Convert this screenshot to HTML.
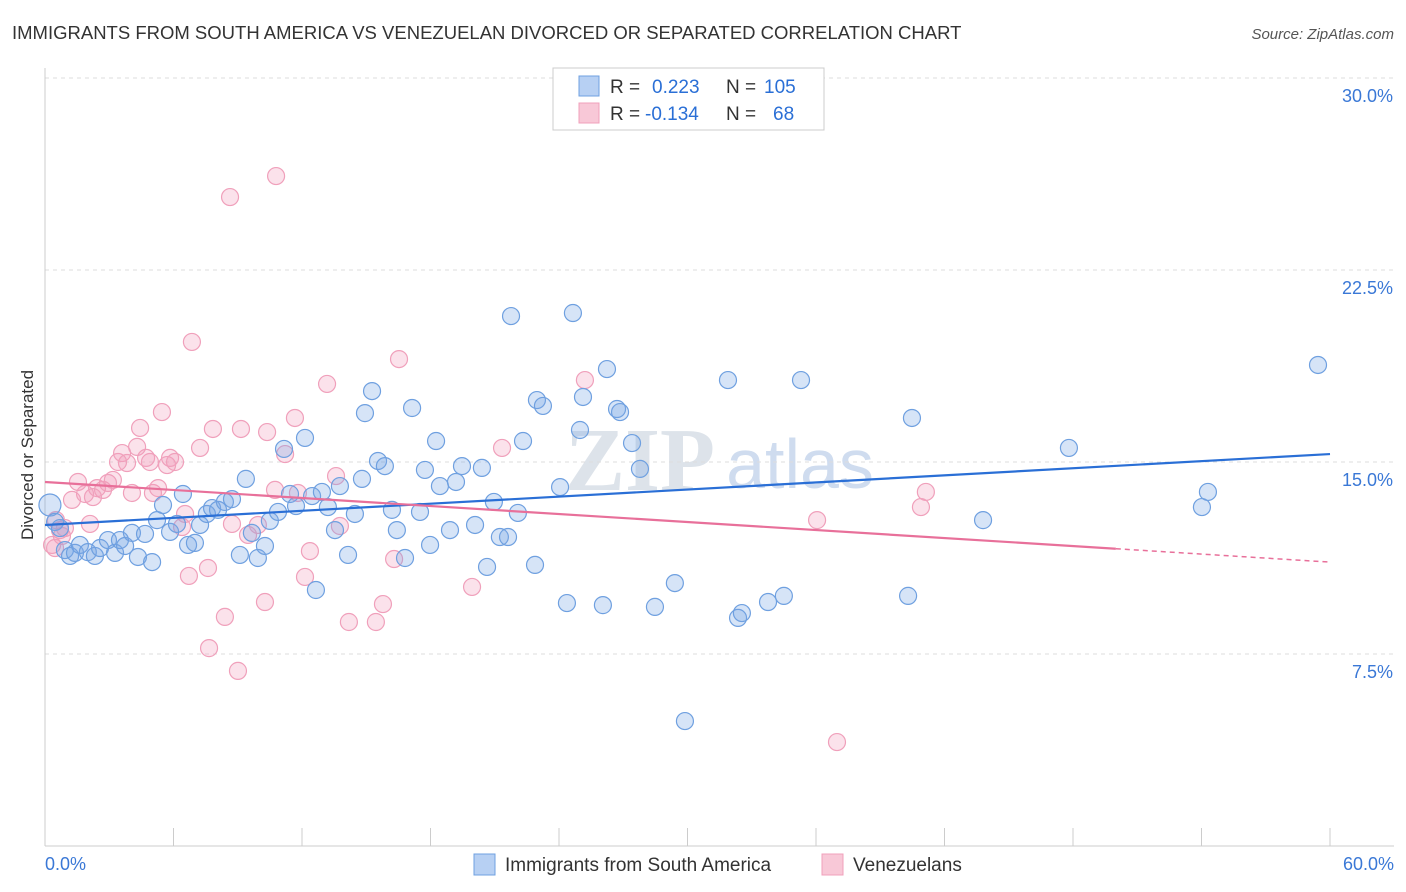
<!DOCTYPE html>
<html><head><meta charset="utf-8">
<style>
body{margin:0;background:#fff;font-family:"Liberation Sans",sans-serif;}
#wrap{position:relative;width:1406px;height:892px;overflow:hidden;}
</style></head>
<body>
<div id="wrap">
<svg id="svg" width="1406" height="892" xmlns="http://www.w3.org/2000/svg">
<text x="12" y="39" font-size="18.5" fill="#333">IMMIGRANTS FROM SOUTH AMERICA VS VENEZUELAN DIVORCED OR SEPARATED CORRELATION CHART</text>
<text x="1394" y="39" font-size="15" fill="#555" font-style="italic" text-anchor="end">Source: ZipAtlas.com</text>
<text x="33" y="455" font-size="17" fill="#333" text-anchor="middle" transform="rotate(-90 33 455)">Divorced or Separated</text>
<text x="640" y="490" font-size="90" fill="#dde3ea" font-family="Liberation Serif,serif" text-anchor="middle" font-weight="bold">ZIP</text>
<text x="800" y="488" font-size="70" fill="#cfdcef" text-anchor="middle">atlas</text>
<g id="grid"></g>
<g id="pts"></g>
<g id="lines"></g>
<g>
<rect x="553" y="68" width="271" height="62" fill="#fff" stroke="#ccc"/>
<rect x="579" y="76" width="20" height="20" fill="#b7d0f3" stroke="#6fa0e0"/>
<rect x="579" y="103" width="20" height="20" fill="#f8c8d7" stroke="#f0a0bb"/>
<text x="610" y="93" font-size="19" fill="#333">R = <tspan fill="#2a6fd6" x="652">0.223</tspan><tspan x="726" fill="#333">N =</tspan><tspan x="764" fill="#2a6fd6">105</tspan></text>
<text x="610" y="120" font-size="19" fill="#333">R = <tspan fill="#2a6fd6" x="645">-0.134</tspan><tspan x="726" fill="#333">N =</tspan><tspan x="773" fill="#2a6fd6">68</tspan></text>
</g>
<g>
<rect x="474" y="854" width="21" height="21" fill="#b7d0f3" stroke="#6fa0e0"/>
<text x="505" y="871" font-size="19" fill="#333">Immigrants from South America</text>
<rect x="822" y="854" width="21" height="21" fill="#f8c8d7" stroke="#f0a0bb"/>
<text x="853" y="871" font-size="19" fill="#333">Venezuelans</text>
</g>
</svg>
</div>
<script>
const blueX=[0.23,0.47,0.7,0.93,1.17,1.4,1.63,2.0,2.33,2.57,2.94,3.27,3.5,3.74,4.06,4.34,4.67,5.0,5.23,5.51,5.84,6.16,6.44,6.68,7.0,7.24,7.56,7.8,8.08,8.4,8.73,9.1,9.38,9.66,9.94,10.27,10.5,10.88,11.16,11.44,11.72,12.14,12.47,12.65,12.93,13.21,13.54,13.77,14.15,14.47,14.8,14.94,15.27,15.55,15.87,16.2,16.43,16.81,17.14,17.51,17.74,17.98,18.26,18.44,18.91,19.19,19.47,20.08,20.4,20.64,20.96,21.24,21.62,21.76,22.08,22.32,22.88,22.97,23.25,24.05,24.37,24.65,24.98,25.12,26.05,26.24,26.71,26.85,27.41,27.78,28.48,29.41,29.88,31.89,32.36,32.54,33.76,34.5,35.3,40.3,40.48,43.8,47.81,54.02,54.3,59.44];
const blueY=[13.32,12.66,12.42,11.56,11.33,11.45,11.76,11.48,11.33,11.64,11.95,11.45,11.95,11.72,12.23,11.29,12.19,11.09,12.73,13.32,12.27,12.58,13.75,11.76,11.84,12.54,12.97,13.2,13.13,13.44,13.55,11.37,14.34,12.23,11.25,11.72,12.7,13.05,15.51,13.75,13.28,15.94,13.67,10.0,13.83,13.24,12.34,14.06,11.37,12.97,14.34,16.91,17.77,15.04,14.84,13.13,12.34,11.25,17.11,13.05,14.69,11.76,15.82,14.06,12.34,14.22,14.84,12.54,14.77,10.9,13.44,12.07,12.07,20.7,13.01,15.82,10.98,17.42,17.19,14.02,9.49,20.82,16.25,17.54,9.41,18.63,17.07,16.95,15.74,14.73,9.34,10.27,4.88,18.2,8.91,9.1,9.53,9.77,18.2,9.77,16.72,12.73,15.55,13.24,13.83,18.79];
const pinkX=[0.33,0.51,0.7,0.93,1.26,1.54,1.87,2.1,2.43,2.71,2.94,3.17,3.41,3.6,3.83,4.06,4.3,4.44,4.72,4.9,5.04,5.28,5.46,5.7,5.84,6.07,6.4,6.54,6.72,6.86,7.24,7.61,7.66,7.84,8.4,8.64,8.73,9.01,9.15,9.48,10.27,10.37,10.79,11.21,11.67,11.81,12.14,12.37,13.17,13.59,13.77,14.19,15.45,15.78,16.3,16.53,19.94,21.34,25.21,36.05,36.98,40.9,41.13,0.79,2.24,9.94,0.47,10.74];
const pinkY=[11.76,12.73,12.34,12.42,13.52,14.22,13.75,12.58,13.98,13.91,14.18,14.3,15.0,15.35,14.96,13.79,15.59,16.33,15.16,15.0,13.79,13.98,16.95,14.88,15.16,15.0,12.46,12.97,10.55,19.69,15.55,10.86,7.73,16.29,8.95,25.35,12.58,6.84,16.29,12.15,9.53,16.17,26.17,15.31,16.72,13.79,10.51,11.52,18.05,14.45,12.5,8.75,8.75,9.45,11.21,19.02,10.12,15.55,18.2,12.73,4.06,13.24,13.83,12.11,13.63,12.54,11.64,13.91];
const yTicks=[30,22.5,15,7.5];
const blueTrend=[12.54,15.31];
const pinkTrend=[14.22,11.09];
const pinkSolidEnd=50;
const NS='http://www.w3.org/2000/svg';
function sx(v){return 45+v/60*1285;}
function sy(v){return 846-v/7.5*192;}
function mk(t,a,p){const e=document.createElementNS(NS,t);for(const k in a)e.setAttribute(k,a[k]);p.appendChild(e);return e;}
const grid=document.getElementById('grid');
yTicks.forEach(t=>{
  const l=mk('line',{x1:45,x2:1394,y1:sy(t),y2:sy(t),stroke:'#ddd','stroke-dasharray':'4,4'},grid);
  
  
  const tx=mk('text',{x:1393,y:sy(t)+24,'font-size':18,fill:'#3a78d6','text-anchor':'end'},grid);
  tx.textContent=t.toFixed(1)+'%';
  
  
});
mk('line',{x1:45,x2:45,y1:68,y2:846,stroke:'#ccc'},grid);
mk('line',{x1:45,x2:1394,y1:846,y2:846,stroke:'#ccc'},grid);
for(let i=0;i<=10;i++){const l=mk('line',{x1:sx(i*6),x2:sx(i*6),y1:828,y2:846,stroke:'#ccc'},grid);
  
  }
const xl=mk('text',{x:45,y:870,'font-size':18,fill:'#3a78d6'},grid);xl.textContent='0.0%';


const xr=mk('text',{x:1394,y:870,'font-size':18,fill:'#3a78d6','text-anchor':'end'},grid);xr.textContent='60.0%';


const pts=document.getElementById('pts');
pinkX.forEach((x,i)=>{const c=mk('circle',{cx:sx(x),cy:sy(pinkY[i]),r:8.5,fill:'rgba(243,160,190,0.3)',stroke:'#f0a0bb','stroke-width':1.2},pts);
  
  });
blueX.forEach((x,i)=>{const c=mk('circle',{cx:sx(x),cy:sy(blueY[i]),r:i==0?11:8.5,fill:'rgba(120,165,230,0.3)',stroke:'#6fa0e0','stroke-width':1.2},pts);
  
  });
const lines=document.getElementById('lines');
const bl=mk('line',{x1:sx(0),y1:sy(blueTrend[0]),x2:sx(60),y2:sy(blueTrend[1]),stroke:'#2a6fd6','stroke-width':2.2},lines);


const pe=pinkTrend[0]+(pinkTrend[1]-pinkTrend[0])*pinkSolidEnd/60;
const pl=mk('line',{x1:sx(0),y1:sy(pinkTrend[0]),x2:sx(pinkSolidEnd),y2:sy(pe),stroke:'#e8709a','stroke-width':2.2},lines);


const pd=mk('line',{x1:sx(pinkSolidEnd),y1:sy(pe),x2:sx(60),y2:sy(pinkTrend[1]),stroke:'#e8709a','stroke-width':1.5,'stroke-dasharray':'5,4'},lines);


</script>
</body></html>
